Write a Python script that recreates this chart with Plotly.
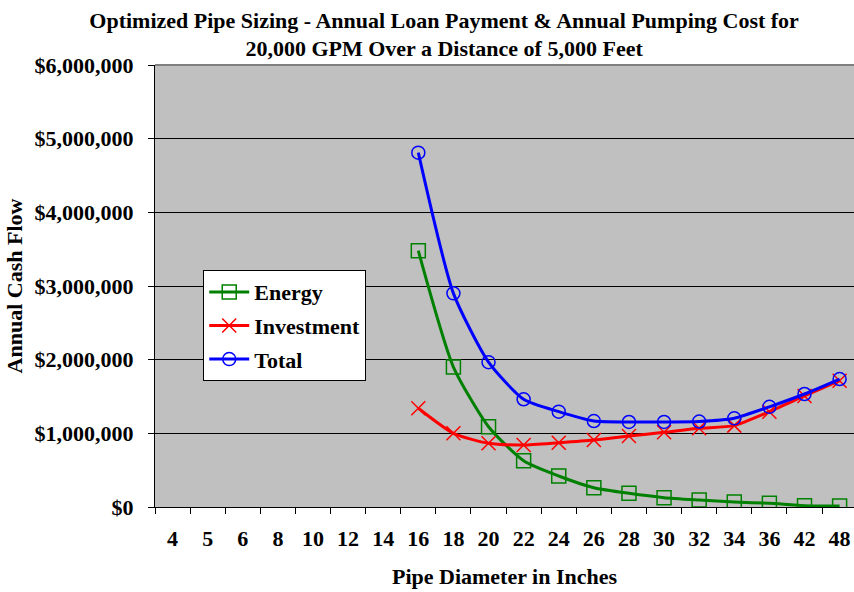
import plotly.graph_objects as go

categories = ["4", "5", "6", "8", "10", "12", "14", "16", "18", "20", "22", "24",
              "26", "28", "30", "32", "34", "36", "42", "48"]
data_cats = ["16", "18", "20", "22", "24", "26", "28", "30", "32", "34", "36", "42", "48"]
energy = [3479000, 1900000, 1090000, 628000, 421000, 262000, 186000, 127000,
          95000, 68000, 50000, 18000, 14000]
investment = [1340000, 1000000, 865000, 842000, 873000, 909000, 964000, 1014000,
              1068000, 1105000, 1294000, 1507000, 1715000]
total = [4810000, 2900000, 1966000, 1462000, 1294000, 1167000, 1154000, 1154000,
         1160000, 1204000, 1360000, 1534000, 1737000]
y_ticks = [0, 1000000, 2000000, 3000000, 4000000, 5000000, 6000000]

FONT = "Liberation Serif"
FS = 22

fig = go.Figure()
fig.add_trace(go.Scatter(
    x=data_cats, y=energy, name="<b>Energy</b>", mode="lines+markers",
    line=dict(color="#008000", width=3, shape="spline", smoothing=0.6),
    marker=dict(symbol="square-open", size=14, color="#008000", line=dict(width=1.5)),
    legendgroup="a"))
fig.add_trace(go.Scatter(
    x=data_cats, y=investment, name="<b>Investment</b>", mode="lines+markers",
    line=dict(color="#FF0000", width=3, shape="spline", smoothing=0.6),
    marker=dict(symbol="x-thin-open", size=14, color="#FF0000", line=dict(width=1.5, color="#FF0000")),
    legendgroup="b"))
fig.add_trace(go.Scatter(
    x=data_cats, y=total, name="<b>Total</b>", mode="lines+markers",
    line=dict(color="#0000FF", width=3, shape="spline", smoothing=0.6),
    marker=dict(symbol="circle-open", size=13, color="#0000FF", line=dict(width=1.5)),
    legendgroup="c"))

fig.update_layout(
    width=854, height=592,
    margin=dict(l=155, r=0, t=65, b=85),
    paper_bgcolor="white", plot_bgcolor="#C0C0C0",
    font=dict(family=FONT, color="black", size=FS),
    title=dict(
        text="<b>Optimized Pipe Sizing - Annual Loan Payment & Annual Pumping Cost for<br>20,000 GPM Over a Distance of 5,000 Feet</b>",
        x=0.52, xanchor="center", y=0.953, yanchor="middle",
        font=dict(family=FONT, size=FS, color="black")),
    showlegend=True,
    legend=dict(
        x=0.069, y=0.536, xanchor="left", yanchor="top",
        bgcolor="white", bordercolor="black", borderwidth=1,
        font=dict(family=FONT, size=FS, color="black"),
        tracegroupgap=2, traceorder="grouped", itemwidth=40),
    xaxis=dict(
        type="category", categoryorder="array", categoryarray=categories,
        range=[-0.5, 19.41], tickson="boundaries",
        ticks="outside", ticklen=6, tickcolor="black", tickwidth=1,
        showline=True, linecolor="black", linewidth=1,
        showgrid=False, zeroline=False,
        tickfont=dict(family=FONT, size=FS, color="black", weight="bold"),
        ticklabelstandoff=12,
        title=dict(text="<b>Pipe Diameter in Inches</b>", standoff=18,
                   font=dict(family=FONT, size=FS, color="black"))),
    yaxis=dict(
        range=[0, 6000000], tickvals=y_ticks,
        tickformat="$,.0f",
        ticks="outside", ticklen=6, tickcolor="black", tickwidth=1,
        showline=True, linecolor="black", linewidth=1,
        showgrid=True, gridcolor="black", gridwidth=1,
        zeroline=False,
        tickfont=dict(family=FONT, size=FS, color="black", weight="bold"),
        ticklabelstandoff=10,
        title=dict(text="<b>Annual Cash Flow</b>", standoff=5,
                   font=dict(family=FONT, size=FS, color="black"))),
)

fig.add_shape(type="line", xref="paper", yref="paper", x0=0, x1=1, y0=1, y1=1,
              line=dict(color="#808080", width=2))

fig.write_html("out.html", config={"displayModeBar": False},
               post_script="document.body.style.margin='0';document.body.style.overflow='hidden';")
